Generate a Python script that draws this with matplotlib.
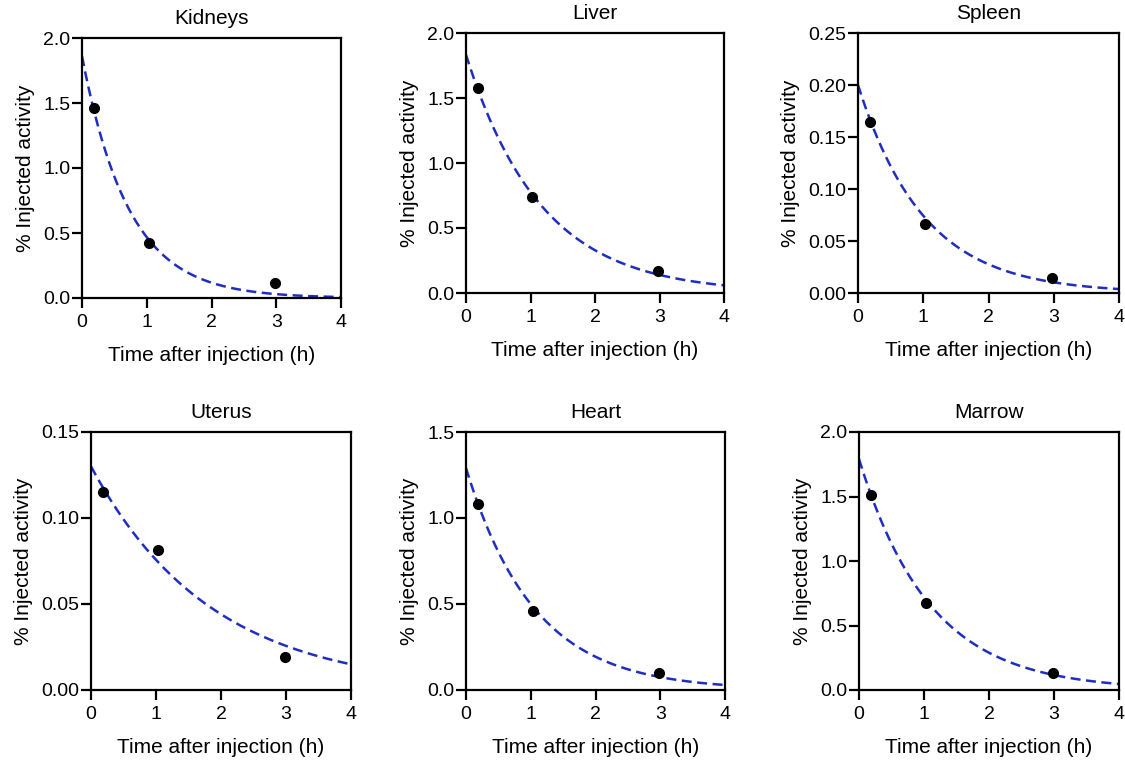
import numpy as np
import matplotlib
matplotlib.use("Agg")
import matplotlib.pyplot as plt

plt.rcParams['font.family'] = ['Liberation Sans', 'DejaVu Sans']

# sampling times (h) and measured % injected activity
times = [0.18, 1.03, 2.98]
organs = ['Kidneys', 'Liver', 'Spleen', 'Uterus', 'Heart', 'Marrow']
kidneys = [1.46, 0.424, 0.116]
liver = [1.58, 0.738, 0.167]
spleen = [0.164, 0.066, 0.0148]
uterus = [0.115, 0.0813, 0.0192]
heart = [1.083, 0.462, 0.099]
marrow = [1.514, 0.678, 0.129]
values = [kidneys, liver, spleen, uterus, heart, marrow]

# one-phase decay fit: y = y0 * exp(-k t)
fit_y0 = [1.86, 1.833, 0.200, 0.130, 1.29, 1.79]
fit_k = [1.38, 0.859, 0.99, 0.541, 0.949, 0.912]

# axis ranges / ticks
y_max = [2.0, 2.0, 0.25, 0.15, 1.5, 2.0]
y_ticks = [
    [0.0, 0.5, 1.0, 1.5, 2.0],
    [0.0, 0.5, 1.0, 1.5, 2.0],
    [0.00, 0.05, 0.10, 0.15, 0.20, 0.25],
    [0.00, 0.05, 0.10, 0.15],
    [0.0, 0.5, 1.0, 1.5],
    [0.0, 0.5, 1.0, 1.5, 2.0],
]
y_fmt = ['%.1f', '%.1f', '%.2f', '%.2f', '%.1f', '%.1f']

W, H = 1125, 761
fig = plt.figure(figsize=(W / 100, H / 100), dpi=100)

# axes boxes in pixels: left, top, right, bottom
boxes = [
    (82, 38, 341, 298),
    (466, 33, 724, 293),
    (858, 33, 1119, 293),
    (91, 432, 351, 690),
    (466, 432, 725, 690),
    (859, 432, 1119, 690),
]

t_fit = np.linspace(0, 4, 200)

for i, name in enumerate(organs):
    l, t, r, b = boxes[i]
    ax = fig.add_axes([l / W, 1 - b / H, (r - l) / W, (b - t) / H])
    ax.plot(t_fit, fit_y0[i] * np.exp(-fit_k[i] * t_fit), color='#1f2ec0',
            lw=1.8, dashes=(4, 2.2), zorder=2)
    ax.plot(times, values[i], 'o', color='black', ms=7, zorder=3, clip_on=False)
    ax.set_xlim(0, 4)
    ax.set_ylim(0, y_max[i])
    ax.set_xticks([0, 1, 2, 3, 4])
    ax.set_yticks(y_ticks[i])
    ax.set_yticklabels([y_fmt[i] % v for v in y_ticks[i]])
    for s in ax.spines.values():
        s.set_linewidth(1.6)
    ax.tick_params(direction='out', length=7.5, width=1.6, labelsize=14,
                   colors='black')
    ax.tick_params(axis='x', pad=4)
    ax.tick_params(axis='y', pad=1)
    ax.set_title(name, fontsize=15, pad=10)
    ax.set_xlabel('Time after injection (h)', fontsize=15, labelpad=11)
    ax.set_ylabel('% Injected activity', fontsize=15, labelpad=6)

fig.savefig('out.png', dpi=100, facecolor='white')
